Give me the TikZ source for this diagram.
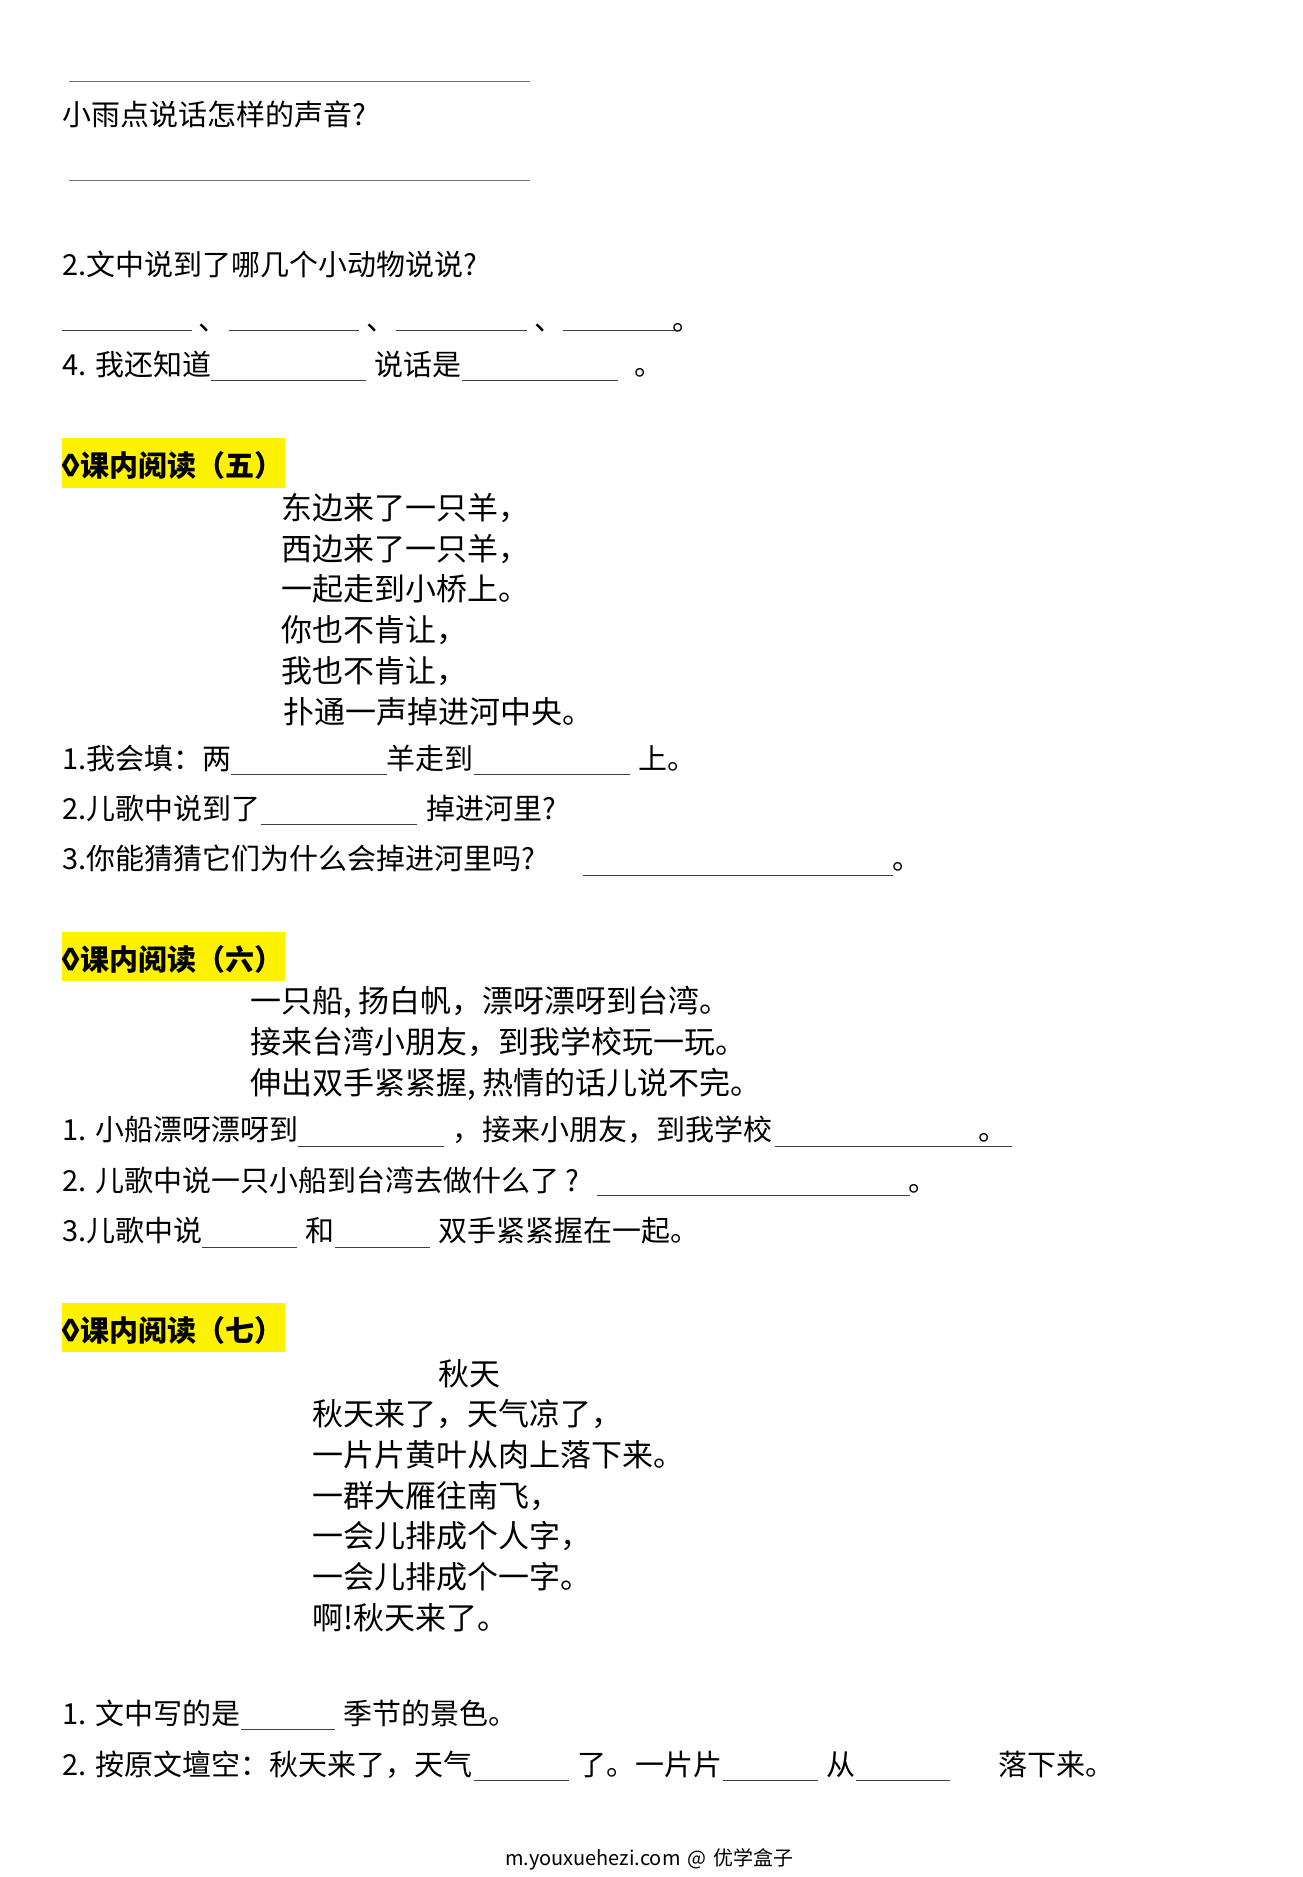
\documentclass[tikz,border=0pt]{standalone}
\usepackage{fontspec}
\setmainfont{Noto Sans CJK SC}
\usepackage{tikz}

\newcommand{\lozmark}{\makebox[18pt][c]{◊}}

\tikzset{
  ans/.style={anchor=base west,inner sep=0pt,font=\fontsize{29}{29}\selectfont},
  poem/.style={anchor=base west,inner sep=0pt,font=\fontsize{31}{31}\selectfont},
  head/.style={anchor=north west,inner sep=0pt,fill=yellow,minimum width=222.7pt,minimum height=49.5pt,text width=222.7pt,text height=30pt,text depth=2.4pt,font=\fontsize{29}{29}\selectfont\bfseries},
  blank/.style={line width=1.1pt,black!75},
  foot/.style={anchor=base west,inner sep=0pt,font=\fontsize{20}{20}\selectfont}
}

\begin{document}
\begin{tikzpicture}[x=1.1976pt,y=-1.1976pt]
        \useasboundingbox (0,0) rectangle (1088,1568);

        % top of the page
        \draw[blank,black!55] (58,68) -- (443,68);
        \node[ans] (rain) at (52,105) {小雨点说话怎样的声音?};
        \draw[blank,black!55] (58,151) -- (443,151);
        \node[ans] (q2) at (52,230) {2.文中说到了哪几个小动物说说?};
        \draw[blank] (52,276) -- (160,276);
        \node[ans] (d1) at (166,276) {、};
        \draw[blank] (191,276) -- (300,276);
        \node[ans] (d2) at (306,276) {、};
        \draw[blank] (331,276) -- (440,276);
        \node[ans] (d3) at (446,276) {、};
        \draw[blank] (470,276) -- (565,276);
        \node[ans] (d4) at (562,276) {。};
        \node[ans] (q4) at (52,314) {4. 我还知道};
        \draw[blank] (176,318) -- (306,318);
        \node[ans] (q4b) at (313,314) {说话是};
        \draw[blank] (386,318) -- (516,318);
        \node[ans] (q4c) at (530,314) {。};

        % reading five
        \node[head] (h5) at (52,366) {\lozmark 课内阅读（五）};
        \node[poem] (p51) at (235,434) {东边来了一只羊，};
        \node[poem] (p52) at (235,468) {西边来了一只羊，};
        \node[poem] (p53) at (235,502) {一起走到小桥上。};
        \node[poem] (p54) at (235,536) {你也不肯让，};
        \node[poem] (p55) at (235,570) {我也不肯让，};
        \node[poem] (p56) at (237,604) {扑通一声掉进河中央。};
        \node[ans] (a1) at (52,643) {1.我会填：两};
        \draw[blank] (193,647) -- (323,647);
        \node[ans] (a1b) at (323,643) {羊走到};
        \draw[blank] (396,647) -- (526,647);
        \node[ans] (a1c) at (533,643) {上。};
        \node[ans] (a2) at (52,685) {2.儿歌中说到了};
        \draw[blank] (218,689) -- (348,689);
        \node[ans] (a2b) at (356,685) {掉进河里?};
        \node[ans] (a3) at (52,726) {3.你能猜猜它们为什么会掉进河里吗?};
        \draw[blank] (487,731) -- (746,731);
        \node[ans] (a3b) at (745,726) {。};

        % reading six
        \node[head] (h6) at (52,778) {\lozmark 课内阅读（六）};
        \node[poem] (p61) at (209,846) {一只船, 扬白帆，漂呀漂呀到台湾。};
        \node[poem] (p62) at (209,880) {接来台湾小朋友，到我学校玩一玩。};
        \node[poem] (p63) at (209,914) {伸出双手紧紧握, 热情的话儿说不完。};
        \node[ans] (b1) at (52,953) {1. 小船漂呀漂呀到};
        \draw[blank] (249,958) -- (371,958);
        \node[ans] (b1b) at (378,953) {，};
        \node[ans] (b1c) at (403,953) {接来小朋友，到我学校};
        \draw[blank] (647,958) -- (845,958);
        \node[ans] (b1d) at (817,953) {。};
        \node[ans] (b2) at (52,995) {2. 儿歌中说一只小船到台湾去做什么了 ?};
        \draw[blank] (499,999) -- (760,999);
        \node[ans] (b2b) at (759,995) {。};
        \node[ans] (b3) at (52,1037) {3.儿歌中说};
        \draw[blank] (169,1042) -- (248,1042);
        \node[ans] (b3b) at (255,1037) {和};
        \draw[blank] (280,1042) -- (359,1042);
        \node[ans] (b3c) at (366,1037) {双手紧紧握在一起。};

        % reading seven
        \node[head] (h7) at (52,1088) {\lozmark 课内阅读（七）};
        \node[poem] (p70) at (366,1157) {秋天};
        \node[poem] (p71) at (261,1191) {秋天来了，天气凉了，};
        \node[poem] (p72) at (261,1225) {一片片黄叶从肉上落下来。};
        \node[poem] (p73) at (261,1259) {一群大雁往南飞，};
        \node[poem] (p74) at (261,1293) {一会儿排成个人字，};
        \node[poem] (p75) at (261,1327) {一会儿排成个一字。};
        \node[poem] (p76) at (261,1361) {啊!秋天来了。};
        \node[ans] (c1) at (52,1441) {1. 文中写的是};
        \draw[blank] (201,1445) -- (280,1445);
        \node[ans] (c1b) at (287,1441) {季节的景色。};
        \node[ans] (c2) at (52,1483) {2. 按原文壇空：秋天来了，天气};
        \draw[blank] (396,1487) -- (475,1487);
        \node[ans] (c2b) at (482,1483) {了。一片片};
        \draw[blank] (604,1487) -- (683,1487);
        \node[ans] (c2c) at (690,1483) {从};
        \draw[blank] (715,1487) -- (794,1487);
        \node[ans] (c2d) at (834,1483) {落下来。};

        \node[foot] (site) at (422,1558) {m.youxuehezi.com\hspace{2pt} @ \hspace{3pt}优学盒子};
    \end{tikzpicture}
\end{document}
